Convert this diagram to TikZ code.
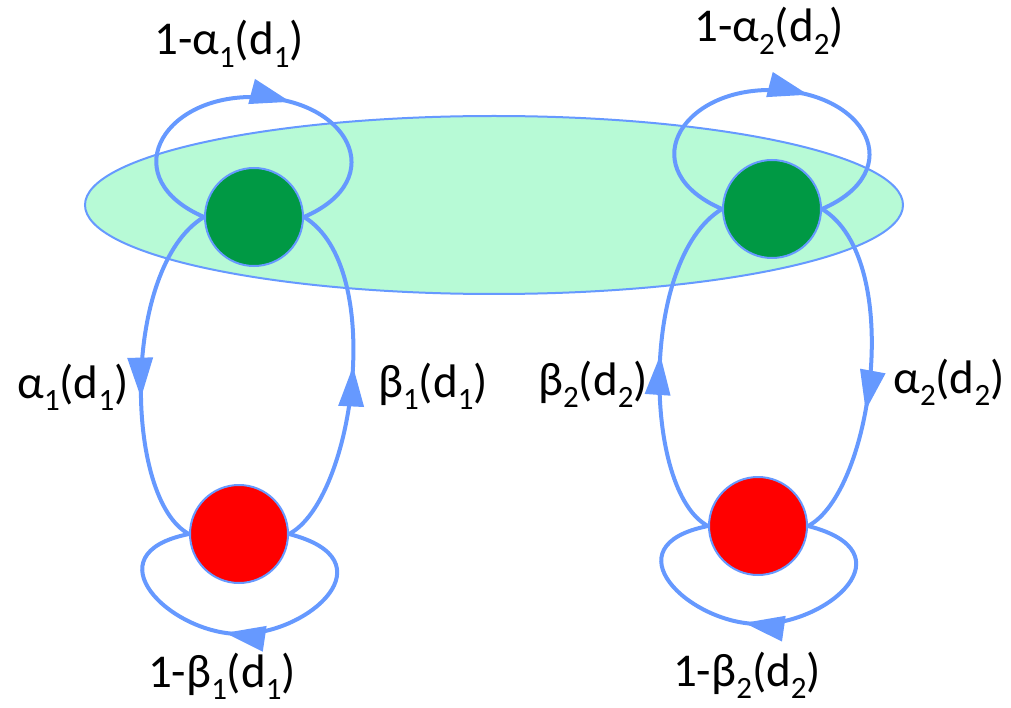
\documentclass[tikz,border=0pt]{standalone}
\usepackage{fontspec}
\setmainfont{Carlito}
\usetikzlibrary{decorations.markings,shapes.geometric}
\definecolor{lnblue}{RGB}{102,153,255}
\definecolor{mint}{RGB}{183,250,214}
\definecolor{dkgreen}{RGB}{0,153,68}
\newcommand\sbx[1]{\raisebox{-0.27em}{\fontsize{31}{31}\selectfont #1}}
\begin{document}
\begin{tikzpicture}[x=1pt,y=1pt,
  state/.style={circle, minimum size=98pt, inner sep=0pt, draw=lnblue, line width=2pt},
  edge/.style={draw=lnblue, line width=4pt},
  lbl/.style={anchor=base, font=\fontsize{47}{52}\selectfont, inner sep=0pt, text=black},
  midarrow/.style={postaction={decorate}, decoration={markings, mark=at position #1 with {\fill[lnblue] (0pt,0pt) -- (-40pt,13pt) -- (-40pt,-13pt) -- cycle;}}}
]
\useasboundingbox (0,0) rectangle (1011,-708);
\node[ellipse, draw=lnblue, line width=2pt, fill=mint, minimum width=818pt, minimum height=178pt, inner sep=0pt] (grp) at (494,-205) {};
\node[state, fill=dkgreen] (g1) at (254,-217) {};
\node[state, fill=dkgreen] (g2) at (772,-209) {};
\node[state, fill=red] (r1) at (239,-534) {};
\node[state, fill=red] (r2) at (758,-526) {};
\coordinate (t1) at (252,-97);
\coordinate (t2) at (770,-90);
\coordinate (b1) at (240,-634);
\coordinate (b2) at (759,-624);
% self loops on top
\draw[edge, midarrow=0.59] (g1.west) .. controls +(-88,38) and +(-92,0) .. (t1) .. controls +(96,0) and +(88,38) .. (g1.east);
\draw[edge, midarrow=0.59] (g2.west) .. controls +(-88,38) and +(-92,0) .. (t2) .. controls +(96,0) and +(88,38) .. (g2.east);
% transitions
\draw[edge, midarrow=0.57] (g1.west) .. controls +(-83,-50) and +(-65,34) .. (r1.west);
\draw[edge, midarrow=0.53] (r1.east) .. controls +(65,34) and +(83,-50) .. (g1.east);
\draw[edge, midarrow=0.53] (r2.west) .. controls +(-65,34) and +(-83,-50) .. (g2.west);
\draw[edge, midarrow=0.62] (g2.east) .. controls +(83,-50) and +(65,34) .. (r2.east);
% self loops at bottom
\draw[edge, midarrow=0.54] (r1.east) .. controls +(102,-26) and +(70,0) .. (b1) .. controls +(-70,0) and +(-100,-20) .. (r1.west);
\draw[edge, midarrow=0.54] (r2.east) .. controls +(102,-26) and +(70,0) .. (b2) .. controls +(-70,0) and +(-100,-20) .. (r2.west);
% labels
\node[lbl] (la1) at (229,-55) {1-α\sbx{1}(d\sbx{1})};
\node[lbl] (la2) at (769,-42) {1-α\sbx{2}(d\sbx{2})};
\node[lbl] (lb1) at (222,-687) {1-β\sbx{1}(d\sbx{1})};
\node[lbl] (lb2) at (747,-686) {1-β\sbx{2}(d\sbx{2})};
\node[lbl] (a1) at (73,-398) {α\sbx{1}(d\sbx{1})};
\node[lbl] (b1l) at (433,-397) {β\sbx{1}(d\sbx{1})};
\node[lbl] (b2l) at (593,-395) {β\sbx{2}(d\sbx{2})};
\node[lbl] (a2) at (949,-393) {α\sbx{2}(d\sbx{2})};
\end{tikzpicture}
\end{document}
